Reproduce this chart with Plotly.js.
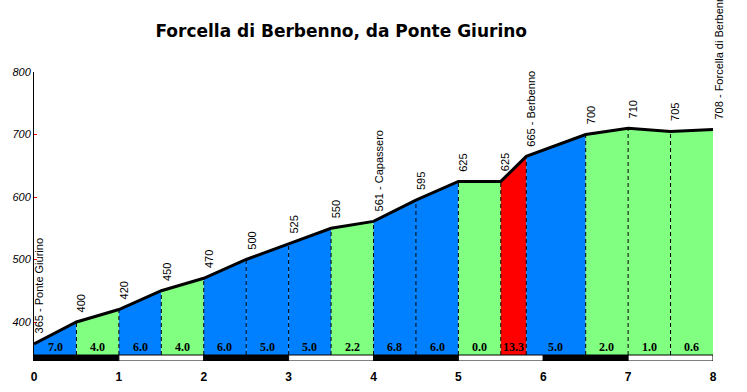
<!DOCTYPE html>
<html><head><meta charset="utf-8">
<script src="https://cdn.plot.ly/plotly-3.0.1.min.js"></script>
<style>body{margin:0;background:#fff}#c{width:747px;height:392px}</style>
</head><body><div id="c"></div>
<script>
// Data
const km = [0, 0.5, 1, 1.5, 2, 2.5, 3, 3.5, 4, 4.5, 5, 5.5, 5.8, 6.5, 7, 7.5, 8];
const elev = [365, 400, 420, 450, 470, 500, 525, 550, 561, 595, 625, 625, 665, 700, 710, 705, 708];
const pointLabels = ["365 - Ponte Giurino", "400", "420", "450", "470", "500", "525", "550", "561 - Capassero", "595", "625", "625", "665 - Berbenno", "700", "710", "705", "708 - Forcella di Berbenno"];
const gradeLabels = ["7.0", "4.0", "6.0", "4.0", "6.0", "5.0", "5.0", "2.2", "6.8", "6.0", "0.0", "13.3", "5.0", "2.0", "1.0", "0.6"];
const kmTicks = [0, 1, 2, 3, 4, 5, 6, 7, 8];
const titleText = "Forcella di Berbenno, da Ponte Giurino";

const BASE = 347.2, STRIP_BOTTOM = 337.6;
function colorFor(g) { g = Math.abs(g); return g >= 10 ? "#FF0000" : (g >= 5 ? "#0080FF" : "#80FF80"); }

const traces = [];
const shapes = [];
const annotations = [];
for (let i = 0; i < km.length - 1; i++) {
  const g = parseFloat(gradeLabels[i]);
  traces.push({
    x: [km[i], km[i], km[i+1], km[i+1], km[i]],
    y: [BASE, elev[i], elev[i+1], BASE, BASE],
    type: "scatter", mode: "lines", fill: "toself",
    fillcolor: colorFor(g), line: {width: 0}, hoverinfo: "skip", showlegend: false
  });
  annotations.push({
    x: (km[i] + km[i+1]) / 2, y: BASE, xref: "x", yref: "y",
    text: gradeLabels[i], showarrow: false, yanchor: "bottom", xanchor: "center", yshift: -1,
    font: {family: "Liberation Serif", size: 12, color: "#000", weight: "bold"}
  });
}
for (let i = 1; i < km.length - 1; i++) {
  shapes.push({type: "line", xref: "x", yref: "y", x0: km[i], x1: km[i], y0: BASE, y1: elev[i],
    line: {color: "#000", width: 1, dash: "4px,3px"}});
}
traces.push({x: km, y: elev, type: "scatter", mode: "lines", line: {color: "#000", width: 3},
  hoverinfo: "skip", showlegend: false});
for (let i = 0; i < km.length; i++) {
  annotations.push({
    x: km[i], y: elev[i], xref: "x", yref: "y", text: pointLabels[i], showarrow: false,
    textangle: -90, xanchor: "center", yanchor: "bottom", xshift: 5, yshift: 8,
    font: {family: "Liberation Sans", size: 11, color: "#000"}
  });
}
for (let k = 0; k < kmTicks.length - 1; k++) {
  shapes.push({type: "rect", xref: "x", yref: "y", x0: kmTicks[k], x1: kmTicks[k+1], y0: STRIP_BOTTOM, y1: BASE,
    fillcolor: k % 2 === 0 ? "#000" : "#fff", line: {color: "#000", width: 1}});
}

const layout = {
  width: 747, height: 392,
  margin: {l: 34, r: 34, t: 72, b: 31},
  paper_bgcolor: "#fff", plot_bgcolor: "#fff",
  title: {text: titleText, x: 338/747, xref: "paper", xanchor: "center", y: 1 - 31/392, yanchor: "middle",
    font: {family: "DejaVu Sans", size: 17, color: "#000", weight: "bold"}},
  xaxis: {range: [0, 8], tickvals: kmTicks, ticktext: kmTicks.map(String), showgrid: false, zeroline: false,
    showline: false, ticks: "", ticklabelstandoff: 7,
    tickfont: {family: "Liberation Sans", size: 12, color: "#000", weight: "bold"}},
  yaxis: {range: [STRIP_BOTTOM, 800], tickvals: [400, 500, 600, 700, 800], showgrid: false, zeroline: false,
    showline: true, linecolor: "#000", linewidth: 1, ticks: "inside", ticklen: 3, tickcolor: "#FF0000",
    tickfont: {family: "Liberation Sans", size: 11, color: "#000", style: "italic"}},
  shapes: shapes, annotations: annotations
};
Plotly.newPlot("c", traces, layout, {displayModeBar: false, staticPlot: true});
</script></body></html>
